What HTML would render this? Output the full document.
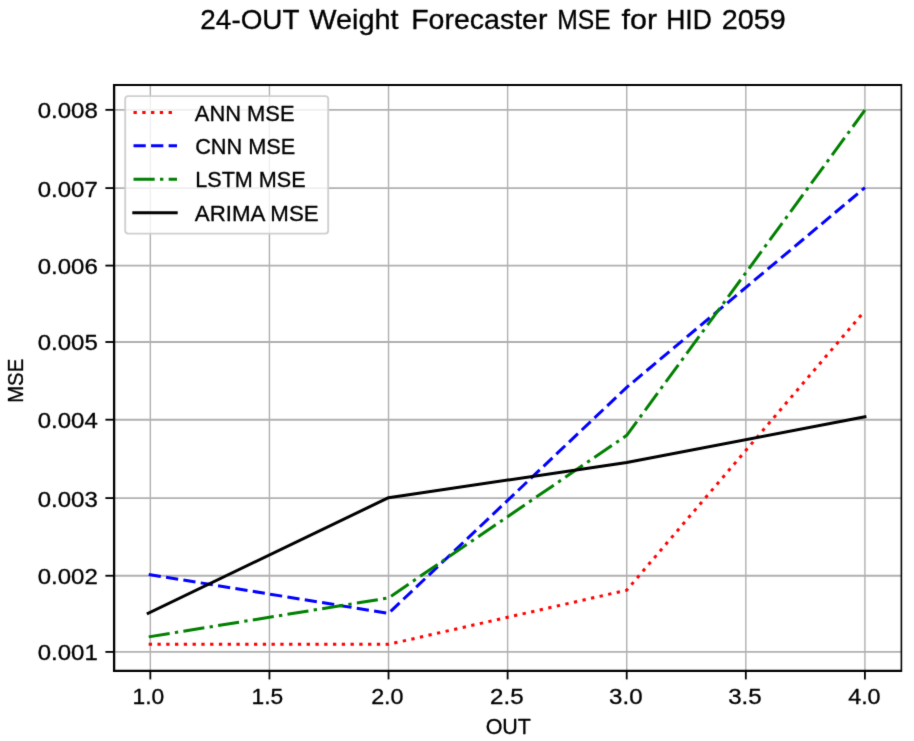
<!DOCTYPE html>
<html><head><meta charset="utf-8"><title>24-OUT Weight Forecaster MSE for HID 2059</title>
<style>
html,body{margin:0;padding:0;background:#ffffff;}
body{width:914px;height:741px;overflow:hidden;}
svg{display:block;}
text{font-family:"Liberation Sans",sans-serif;fill:#000000;stroke:#000000;stroke-width:0.32px;stroke-linejoin:round;}
</style></head><body>
<svg width="914" height="741" viewBox="0 0 914 741">
<defs><filter id="soft" x="0" y="0" width="914" height="741" filterUnits="userSpaceOnUse" color-interpolation-filters="sRGB"><feConvolveMatrix order="3" kernelMatrix="0.01134 0.08382 0.01134 0.08382 0.61935 0.08382 0.01134 0.08382 0.01134" divisor="1" edgeMode="duplicate" preserveAlpha="false"/></filter></defs>
<g filter="url(#soft)">
<rect x="0" y="0" width="914" height="741" fill="#ffffff"/>
<g stroke="#b0b0b0" fill="none">
<line x1="150.34" y1="85.00" x2="150.34" y2="670.90" stroke-width="1.4"/>
<line x1="269.44" y1="85.00" x2="269.44" y2="670.90" stroke-width="1.4"/>
<line x1="388.53" y1="85.00" x2="388.53" y2="670.90" stroke-width="1.4"/>
<line x1="507.62" y1="85.00" x2="507.62" y2="670.90" stroke-width="1.4"/>
<line x1="626.72" y1="85.00" x2="626.72" y2="670.90" stroke-width="1.4"/>
<line x1="745.82" y1="85.00" x2="745.82" y2="670.90" stroke-width="1.4"/>
<line x1="864.91" y1="85.00" x2="864.91" y2="670.90" stroke-width="1.4"/>
<line x1="114.40" y1="651.90" x2="901.30" y2="651.90" stroke-width="1.85"/>
<line x1="114.40" y1="575.75" x2="901.30" y2="575.75" stroke-width="1.85"/>
<line x1="114.40" y1="498.10" x2="901.30" y2="498.10" stroke-width="1.85"/>
<line x1="114.40" y1="419.70" x2="901.30" y2="419.70" stroke-width="1.85"/>
<line x1="114.40" y1="342.00" x2="901.30" y2="342.00" stroke-width="1.85"/>
<line x1="114.40" y1="265.60" x2="901.30" y2="265.60" stroke-width="1.85"/>
<line x1="114.40" y1="188.10" x2="901.30" y2="188.10" stroke-width="1.85"/>
<line x1="114.40" y1="109.85" x2="901.30" y2="109.85" stroke-width="1.85"/>
</g>
<clipPath id="axclip"><rect x="114.40" y="85.00" width="786.90" height="585.90"/></clipPath>
<g clip-path="url(#axclip)" fill="none" stroke-width="3.00" stroke-linejoin="round">
<polyline points="148.69,644.36 388.53,644.36 626.72,590.17 864.79,310.86" stroke="#ff0000" stroke-dasharray="3.31 5.465" stroke-linecap="butt"/>
<polyline points="148.71,574.43 388.53,613.39 626.72,387.36 864.91,187.64" stroke="#0000ff" stroke-dasharray="12.26 5.304" stroke-linecap="butt"/>
<polyline points="148.71,636.88 388.53,597.91 626.72,435.35 864.91,110.23" stroke="#008000" stroke-dasharray="21.22 5.31 3.31 5.31" stroke-linecap="butt"/>
<polyline points="148.18,613.27 388.53,497.67 626.72,462.45 864.91,416.77" stroke="#000000" stroke-linecap="square"/>
</g>
<g stroke="#000000" stroke-width="1.85">
<line x1="150.34" y1="670.90" x2="150.34" y2="679.40" stroke-width="1.8"/>
<line x1="269.44" y1="670.90" x2="269.44" y2="679.40" stroke-width="1.8"/>
<line x1="388.53" y1="670.90" x2="388.53" y2="679.40" stroke-width="1.8"/>
<line x1="507.62" y1="670.90" x2="507.62" y2="679.40" stroke-width="1.8"/>
<line x1="626.72" y1="670.90" x2="626.72" y2="679.40" stroke-width="1.8"/>
<line x1="745.82" y1="670.90" x2="745.82" y2="679.40" stroke-width="1.8"/>
<line x1="864.91" y1="670.90" x2="864.91" y2="679.40" stroke-width="1.8"/>
<line x1="105.40" y1="651.90" x2="114.40" y2="651.90"/>
<line x1="105.40" y1="575.75" x2="114.40" y2="575.75"/>
<line x1="105.40" y1="498.10" x2="114.40" y2="498.10"/>
<line x1="105.40" y1="419.70" x2="114.40" y2="419.70"/>
<line x1="105.40" y1="342.00" x2="114.40" y2="342.00"/>
<line x1="105.40" y1="265.60" x2="114.40" y2="265.60"/>
<line x1="105.40" y1="188.10" x2="114.40" y2="188.10"/>
<line x1="105.40" y1="109.85" x2="114.40" y2="109.85"/>
</g>
<path fill="#000000" d="M112.95 84.05H115.25V672.05H112.95Z M900.60 84.05H902.20V672.05H900.60Z M112.95 84.05H902.20V85.95H112.95Z M112.95 669.75H902.20V672.05H112.95Z"/>
<rect x="125.20" y="96.10" width="203.00" height="137.50" rx="3" ry="3" fill="#ffffff" fill-opacity="0.8" stroke="#cccccc" stroke-opacity="0.95" stroke-width="1.85"/>
<line x1="133.50" y1="112.40" x2="177.00" y2="112.40" stroke="#ff0000" stroke-width="3.00" stroke-dasharray="3.31 5.465"/>
<line x1="133.50" y1="145.85" x2="177.00" y2="145.85" stroke="#0000ff" stroke-width="3.00" stroke-dasharray="12.26 5.304"/>
<line x1="133.50" y1="179.30" x2="177.00" y2="179.30" stroke="#008000" stroke-width="3.00" stroke-dasharray="21.22 5.31 3.31 5.31"/>
<line x1="133.80" y1="212.75" x2="176.20" y2="212.75" stroke="#000000" stroke-width="3.00" stroke-linecap="square"/>
<text id="xt1.0" x="132.55" y="703.50" font-size="22.60" textLength="31.70" lengthAdjust="spacingAndGlyphs">1.0</text>
<text id="xt1.5" x="251.58" y="703.50" font-size="22.60" textLength="31.67" lengthAdjust="spacingAndGlyphs">1.5</text>
<text id="xt2.0" x="371.17" y="703.50" font-size="22.60" textLength="32.40" lengthAdjust="spacingAndGlyphs">2.0</text>
<text id="xt2.5" x="490.09" y="703.50" font-size="22.60" textLength="33.51" lengthAdjust="spacingAndGlyphs">2.5</text>
<text id="xt3.0" x="609.13" y="703.50" font-size="22.60" textLength="33.44" lengthAdjust="spacingAndGlyphs">3.0</text>
<text id="xt3.5" x="728.15" y="703.50" font-size="22.60" textLength="33.48" lengthAdjust="spacingAndGlyphs">3.5</text>
<text id="xt4.0" x="848.21" y="703.50" font-size="22.60" textLength="32.36" lengthAdjust="spacingAndGlyphs">4.0</text>
<text id="yt0.001" x="37.78" y="660.30" font-size="22.60" textLength="59.96" lengthAdjust="spacingAndGlyphs">0.001</text>
<text id="yt0.002" x="37.78" y="584.15" font-size="22.60" textLength="59.96" lengthAdjust="spacingAndGlyphs">0.002</text>
<text id="yt0.003" x="37.78" y="506.50" font-size="22.60" textLength="59.96" lengthAdjust="spacingAndGlyphs">0.003</text>
<text id="yt0.004" x="37.78" y="428.10" font-size="22.60" textLength="59.94" lengthAdjust="spacingAndGlyphs">0.004</text>
<text id="yt0.005" x="37.77" y="350.40" font-size="22.60" textLength="59.96" lengthAdjust="spacingAndGlyphs">0.005</text>
<text id="yt0.006" x="37.77" y="274.00" font-size="22.60" textLength="59.96" lengthAdjust="spacingAndGlyphs">0.006</text>
<text id="yt0.007" x="37.77" y="196.50" font-size="22.60" textLength="59.97" lengthAdjust="spacingAndGlyphs">0.007</text>
<text id="yt0.008" x="37.78" y="118.25" font-size="22.60" textLength="59.96" lengthAdjust="spacingAndGlyphs">0.008</text>
<text id="OUT" x="485.65" y="733.50" font-size="22.60" textLength="45.28" lengthAdjust="spacingAndGlyphs">OUT</text>
<text id="MSE" transform="translate(23.00,402.80) rotate(-90)" font-size="22.60" textLength="43.99" lengthAdjust="spacingAndGlyphs">MSE</text>
<text id="ti0" x="200.36" y="29.20" font-size="27.90" textLength="99.18" lengthAdjust="spacingAndGlyphs">24-OUT</text>
<text id="ti1" x="309.18" y="29.20" font-size="27.90" textLength="89.44" lengthAdjust="spacingAndGlyphs">Weight</text>
<text id="ti2" x="411.18" y="29.20" font-size="27.90" textLength="136.24" lengthAdjust="spacingAndGlyphs">Forecaster</text>
<text id="ti3" x="557.25" y="29.20" font-size="27.90" textLength="53.41" lengthAdjust="spacingAndGlyphs">MSE</text>
<text id="ti4" x="621.54" y="29.20" font-size="27.90" textLength="35.57" lengthAdjust="spacingAndGlyphs">for</text>
<text id="ti5" x="666.20" y="29.20" font-size="27.90" textLength="45.66" lengthAdjust="spacingAndGlyphs">HID</text>
<text id="ti6" x="721.74" y="29.20" font-size="27.90" textLength="63.99" lengthAdjust="spacingAndGlyphs">2059</text>
<text id="lg0" x="194.78" y="120.80" font-size="22.60" textLength="99.84" lengthAdjust="spacingAndGlyphs">ANN MSE</text>
<text id="lg1" x="195.18" y="154.10" font-size="22.60" textLength="100.14" lengthAdjust="spacingAndGlyphs">CNN MSE</text>
<text id="lg2" x="195.24" y="187.40" font-size="22.60" textLength="110.40" lengthAdjust="spacingAndGlyphs">LSTM MSE</text>
<text id="lg3" x="194.79" y="220.70" font-size="22.60" textLength="123.83" lengthAdjust="spacingAndGlyphs">ARIMA MSE</text>
</g>
</svg>
</body></html>
